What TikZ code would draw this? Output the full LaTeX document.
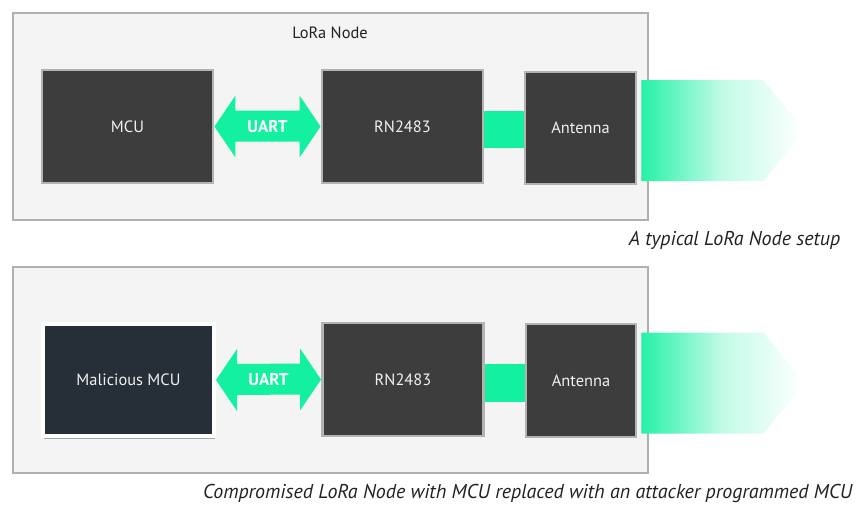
\documentclass[tikz,border=0pt]{standalone}
\usepackage{fontspec}
\setmainfont{PT Sans}
\usetikzlibrary{calc,shadows}
\definecolor{mint}{HTML}{12F0A0}
\definecolor{boxfill}{HTML}{3D3D3D}
\definecolor{boxline}{HTML}{B3B3B3}
\definecolor{outerfill}{HTML}{F4F4F4}
\definecolor{outerline}{HTML}{B0B0B0}
\definecolor{malfill}{HTML}{262E38}
\definecolor{txtdark}{HTML}{222222}
\tikzset{
  outerbox/.style={draw=outerline, fill=outerfill, line width=2.2pt},
  chip/.style={draw=boxline, fill=boxfill, line width=2.2pt, text=white!94!black,
    font=\fontsize{12.3}{14}\selectfont, inner sep=0pt},
  malchip/.style={draw=white, fill=malfill, line width=3pt, text=white!94!black,
    font=\fontsize{12.3}{14}\selectfont, inner sep=0pt,
    general shadow={shadow xshift=0pt, shadow yshift=0pt, shadow scale=1.02, opacity=0.35, fill=black!40},
    drop shadow={shadow xshift=1pt, shadow yshift=-2.6pt, opacity=0.6, fill=black!55}},
  link/.style={fill=mint},
  linklabel/.style={text=white, font=\bfseries\fontsize{12.8}{14}\selectfont},
  caption/.style={text=txtdark, font=\itshape\fontsize{15}{17}\selectfont},
  title/.style={text=txtdark, font=\fontsize{12.3}{14}\selectfont},
}
\begin{document}
\begin{tikzpicture}[x=0.75pt, y=-0.75pt]
\useasboundingbox (0,0) rectangle (868,512);
% ---------- top panel ----------
\draw[outerbox] (13,13) rectangle (648,220);
\node[title] (t1) at (330,33) {LoRa Node};
\node[chip, minimum width=171*0.75pt, minimum height=113*0.75pt] (mcu1) at (127.5,126.5) {MCU};
\node[chip, minimum width=161*0.75pt, minimum height=113*0.75pt] (rn1) at (402.5,126.5) {RN2483};
\node[chip, minimum width=111*0.75pt, minimum height=112*0.75pt] (ant1) at (580.5,128) {Antenna};
\fill[link] (mcu1.east) -- ++(21,-31) -- ++(0,15) -- ($(rn1.west)+(-21,-16)$) -- ++(0,-15)
  -- (rn1.west) -- ++(-21,31) -- ++(0,-16) -- ($(mcu1.east)+(21,15)$) -- ++(0,16) -- cycle;
\node[linklabel] (u1) at ($(mcu1.east)!0.5!(rn1.west)$) {UART};
\fill[link] ($(rn1.east)+(0,-16)$) rectangle ($(ant1.west)+(0,20)$);
\shade[left color=mint!92!white, right color=white, middle color=mint!25!white]
  ($(ant1.east)+(4,-48)$) -- ++(122,0) -- ++(41,50.5) -- ++(-41,50.5) -- ++(-122,0) -- cycle;
\node[caption, anchor=east] (c1) at (845,240) {A typical LoRa Node setup};
% ---------- bottom panel ----------
\draw[outerbox] (13,267) rectangle (648,473);
\node[malchip, minimum width=171*0.75pt, minimum height=112*0.75pt] (mcu2) at (128.5,380) {Malicious MCU};
\node[chip, minimum width=161*0.75pt, minimum height=113*0.75pt] (rn2) at (403,379.5) {RN2483};
\node[chip, minimum width=110*0.75pt, minimum height=113*0.75pt] (ant2) at (581,380.5) {Antenna};
\fill[link] (mcu2.east) -- ++(21,-31) -- ++(0,15) -- ($(rn2.west)+(-21,-16)$) -- ++(0,-15)
  -- (rn2.west) -- ++(-21,31) -- ++(0,-16) -- ($(mcu2.east)+(21,15)$) -- ++(0,16) -- cycle;
\node[linklabel] (u2) at ($(mcu2.east)!0.5!(rn2.west)$) {UART};
\fill[link] ($(rn2.east)+(0,-16)$) rectangle ($(ant2.west)+(0,21)$);
\shade[left color=mint!92!white, right color=white, middle color=mint!25!white]
  ($(ant2.east)+(4,-48)$) -- ++(122,0) -- ++(41,50.5) -- ++(-41,50.5) -- ++(-122,0) -- cycle;
\node[caption, anchor=east] (c2) at (857,493) {Compromised LoRa Node with MCU replaced with an attacker programmed MCU};
\end{tikzpicture}
\end{document}
